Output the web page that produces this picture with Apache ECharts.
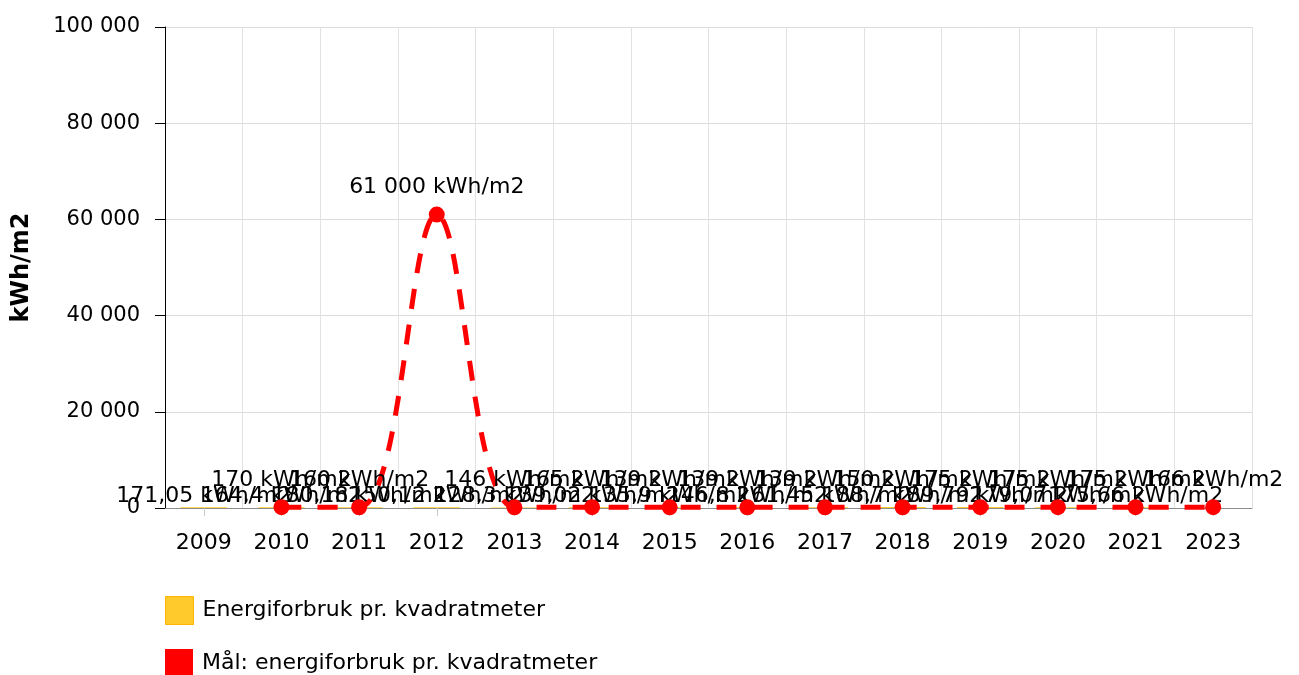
<!DOCTYPE html>
<html>
<head>
<meta charset="utf-8">
<script src="https://cdn.jsdelivr.net/npm/echarts@6/dist/echarts.min.js"></script>
<style>
html, body { margin: 0; padding: 0; background: #fff; }
#container { width: 1299px; height: 675px; }
</style>
</head>
<body>
<div id="container"></div>
<script type="text/javascript">
// kategorier (2022 mangler i originalen)
var years = ['2009', '2010', '2011', '2012', '2013', '2014', '2015', '2016', '2017', '2018', '2019', '2020', '2021', '2023'];
// Energiforbruk pr. kvadratmeter (kWh/m2)
var forbruk = [171.05, 164.4, 180.18, 150.12, 128.3, 139.02, 135.9, 146.8, 161.45, 188.7, 189.79, 179.07, 175.66, null];
// Mål: energiforbruk pr. kvadratmeter (kWh/m2)
var maal = [null, 170, 160, 61000, 146, 165, 139, 139, 139, 150, 175, 175, 175, 166];
var yTicks = [0, 20000, 40000, 60000, 80000, 100000];

var fontName = 'DejaVu Sans';

function fmt(v) {
    var parts = String(v).split('.');
    var heltall = parts[0].replace(/\B(?=(\d{3})+(?!\d))/g, ' ');
    return parts.length > 1 ? heltall + ',' + parts[1] : heltall;
}

function legendItem(name, style, top) {
    return {
        orient: 'vertical',
        left: 165,
        top: top,
        padding: 0,
        itemWidth: 28,
        itemHeight: 28,
        itemGap: 10,
        icon: 'rect',
        textStyle: { fontFamily: fontName, fontSize: 22, color: '#000', padding: [0, 0, 0, 4] },
        data: [{ name: name, itemStyle: style }]
    };
}

var dom = document.getElementById("container");
var myChart = echarts.init(dom);
var option = {
    animation: false,
    textStyle: { fontFamily: fontName },
    grid: { left: 165, right: 47, top: 27, bottom: 167 },
    legend: [
        legendItem('Energiforbruk pr. kvadratmeter', { color: '#ffca2c', borderColor: '#ffb400', borderWidth: 1 }, 596),
        legendItem('Mål: energiforbruk pr. kvadratmeter', { color: '#ff0000', borderWidth: 0 }, 649)
    ],
    xAxis: {
        type: 'category',
        data: years,
        boundaryGap: true,
        axisLine: { lineStyle: { color: '#8c8c8c', width: 1 } },
        axisTick: { show: true, alignWithLabel: true, length: 8, lineStyle: { color: '#c8c8c8' } },
        axisLabel: { color: '#000', fontSize: 22, fontFamily: fontName, margin: 24, interval: 0 },
        splitLine: { show: true, lineStyle: { color: '#e2e2e2' } }
    },
    yAxis: {
        type: 'value',
        min: yTicks[0],
        max: yTicks[yTicks.length - 1],
        interval: 20000,
        name: 'kWh/m2',
        nameLocation: 'middle',
        nameGap: 131,
        nameRotate: 90,
        nameTextStyle: { fontFamily: fontName, fontSize: 24, fontWeight: 'bold', color: '#000' },
        axisLine: { show: true, lineStyle: { color: '#000', width: 1 } },
        axisTick: { show: true, length: 10, lineStyle: { color: '#000' } },
        axisLabel: {
            color: '#000', fontSize: 21, fontFamily: fontName, margin: 25,
            formatter: function (v) { return fmt(v); }
        },
        splitLine: { show: true, lineStyle: { color: '#dcdcdc' } }
    },
    series: [
        {
            name: 'Energiforbruk pr. kvadratmeter',
            type: 'bar',
            data: forbruk,
            barWidth: '60%',
            itemStyle: { color: '#ffca2c', borderColor: '#ffb400', borderWidth: 0 },
            label: {
                show: true,
                position: 'top',
                distance: 0,
                color: '#000',
                fontSize: 22,
                fontFamily: fontName,
                formatter: function (p) { return fmt(p.value) + ' kWh/m2'; }
            },
            z: 2
        },
        {
            name: 'Mål: energiforbruk pr. kvadratmeter',
            type: 'line',
            data: maal,
            smooth: 0.35,
            connectNulls: false,
            clip: true,
            symbol: 'circle',
            symbolSize: 16,
            itemStyle: { color: '#ff0000' },
            lineStyle: { color: '#ff0000', width: 5, type: [20, 16] },
            label: {
                show: true,
                position: 'top',
                distance: 8,
                color: '#000',
                fontSize: 22,
                fontFamily: fontName,
                formatter: function (p) { return fmt(p.value) + ' kWh/m2'; }
            },
            z: 3
        }
    ]
};

if (option && typeof option === "object") {
    myChart.setOption(option, true);
}
</script>
</body>
</html>
